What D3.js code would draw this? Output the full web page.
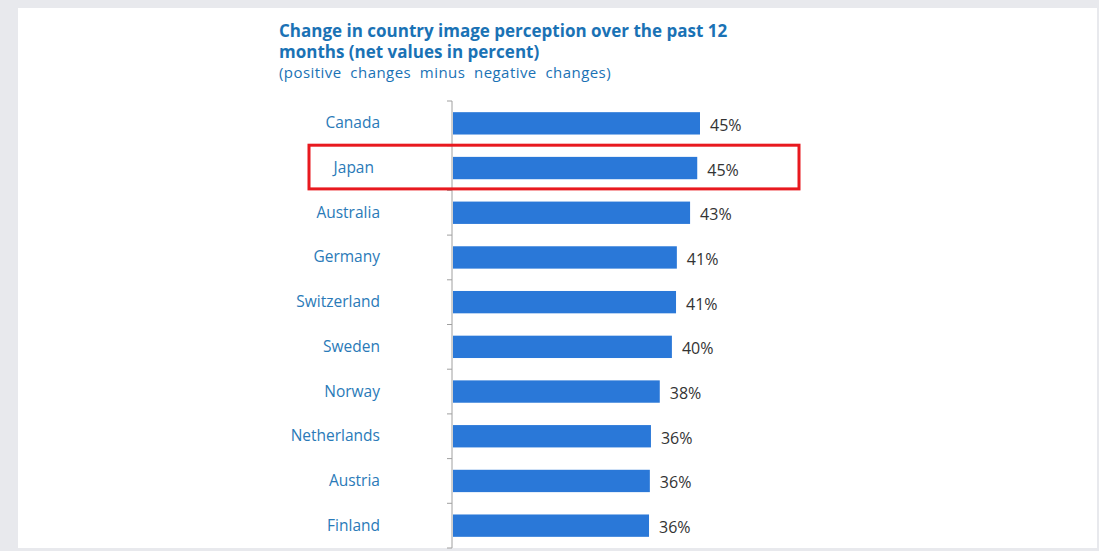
<!DOCTYPE html>
<html><head><meta charset="utf-8">
<script src="https://cdn.jsdelivr.net/npm/d3@7"></script>
<style>body{margin:0;background:#e8e9ed;overflow:hidden}</style>
</head><body>
<svg id="c" width="1099" height="551"></svg>
<script>
const countries = ["Canada","Japan","Australia","Germany","Switzerland","Sweden","Norway","Netherlands","Austria","Finland"];
const values = [45.0,44.5,43.2,40.8,40.65,39.9,37.7,36.1,35.9,35.75];
const labels = ["45%","45%","43%","41%","41%","40%","38%","36%","36%","36%"];
const titleLines = ["Change in country image perception over the past 12","months (net values in percent)"];
const subtitle = "(positive  changes  minus  negative  changes)";
const highlight = "Japan";

const svg = d3.select("#c");
svg.append("rect").attr("x",18).attr("y",8).attr("width",1079).attr("height",540).attr("fill","#ffffff");

const x = d3.scaleLinear().domain([0,45]).range([452,700]);
const y = d3.scaleBand().domain(countries).range([101,548]).paddingInner(0.5).paddingOuter(0.25);

const font = "'Open Sans', 'Noto Sans', sans-serif";
const blue = "#1a72b5";

svg.selectAll("text.title").data(titleLines).join("text")
  .attr("x",279).attr("y",(d,i)=>37+i*21)
  .attr("font-family",font).attr("font-weight","bold").attr("font-size",17)
  .attr("fill",blue).text(d=>d);
svg.append("text").attr("x",279).attr("y",78).attr("font-family",font).attr("font-size",15)
  .attr("fill",blue).attr("letter-spacing",0.45).style("white-space","pre").text(subtitle);

// axis
const axisG = svg.append("g").attr("transform","translate(452,0)");
axisG.append("line").attr("x1",0).attr("x2",0).attr("y1",101).attr("y2",548).attr("stroke","#a0a0a0").attr("stroke-width",1);
const bounds = d3.range(countries.length+1).map(i=>101 + i*y.step());
axisG.selectAll("line.tk").data(bounds).join("line").attr("class","tk")
  .attr("x1",-5).attr("x2",0).attr("y1",d=>d).attr("y2",d=>d).attr("stroke","#a0a0a0");

svg.selectAll("rect.bar").data(countries).join("rect").attr("class","bar")
  .attr("x",x(0)+1).attr("y",d=>y(d)).attr("height",y.bandwidth())
  .attr("width",(d,i)=>x(values[i])-x(0)-1).attr("fill","#2a78d8");

svg.selectAll("text.cat").data(countries).join("text").attr("class","cat")
  .attr("x",d=>d===highlight?374:380).attr("y",d=>y(d)+y.bandwidth()/2+5)
  .attr("text-anchor","end").attr("font-family",font).attr("font-size",15.5)
  .attr("fill","#2a7ab8").text(d=>d);

svg.selectAll("text.val").data(countries).join("text").attr("class","val")
  .attr("x",(d,i)=>x(values[i])+10).attr("y",d=>y(d)+y.bandwidth()/2+7.5)
  .attr("font-family",font).attr("font-size",16).attr("fill","#333333")
  .text((d,i)=>labels[i]);

svg.append("rect").attr("x",309).attr("y",y(highlight)-y.step()*0.25-0.5).attr("width",490).attr("height",y.step()-1)
  .attr("fill","none").attr("stroke","#e8191f").attr("stroke-width",3);
</script>
</body></html>
